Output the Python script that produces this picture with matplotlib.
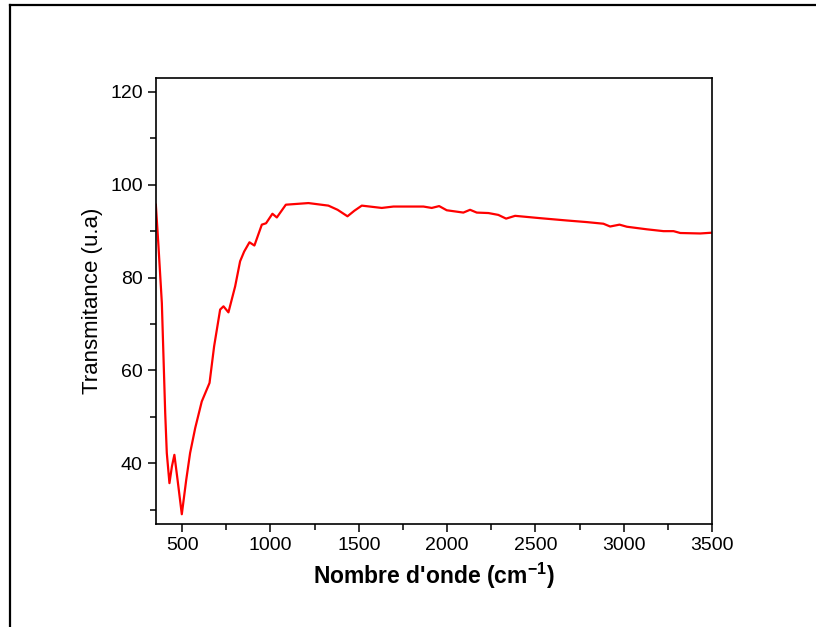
import matplotlib
matplotlib.use("Agg")
import matplotlib.pyplot as plt
from matplotlib.lines import Line2D
from matplotlib.ticker import MultipleLocator

plt.rcParams['font.family'] = ['Liberation Sans', 'DejaVu Sans']
plt.rcParams['mathtext.default'] = 'regular'

wavenumber = [351, 366, 385, 404, 413, 428, 442, 456, 474, 498, 523, 545, 574, 611, 655, 681,
              715, 734, 762, 800, 828, 851, 881, 909,
              951, 975, 1011, 1036, 1087, 1215, 1328, 1380, 1436, 1475, 1517, 1630, 1696, 1734,
              1866, 1913, 1955, 1998, 2092, 2130, 2168, 2234, 2290, 2334, 2385, 2526, 2677,
              2791, 2885, 2923, 2976, 3018, 3130, 3225, 3282, 3320, 3433, 3493]
transmittance = [95.7, 86.7, 74.5, 50.8, 42.2, 35.7, 39.3, 41.8, 36.4, 29.0, 36.4, 42.2, 47.6,
                 53.3, 57.3, 65.2, 73.1, 73.8, 72.5, 78.1, 83.5, 85.6, 87.6, 86.9,
                 91.4, 91.7, 93.75, 92.95, 95.7, 96.05, 95.5, 94.6, 93.2, 94.4, 95.5, 95.0,
                 95.3, 95.3, 95.3, 95.0, 95.4, 94.5, 94.0, 94.6, 94.0, 93.9, 93.5, 92.7, 93.3,
                 92.8, 92.3, 91.95, 91.6, 91.0, 91.4, 90.95, 90.4, 90.0, 90.0, 89.6, 89.5, 89.65]

xlabel = "Nombre d'onde (cm$^{-1}$)"
ylabel = "Transmitance (u.a)"

fig = plt.figure(figsize=(8.16, 6.27), dpi=100)
ax = fig.add_axes([0.1912, 0.1643, 0.6814, 0.7113])
ax.plot(wavenumber, transmittance, color='#ff0000', lw=1.6)
ax.set_xlim(352, 3500)
ax.set_ylim(26.9, 123)
ax.set_xticks([500, 1000, 1500, 2000, 2500, 3000, 3500])
ax.xaxis.set_minor_locator(MultipleLocator(250))
ax.set_yticks([40, 60, 80, 100, 120])
ax.yaxis.set_minor_locator(MultipleLocator(10))
ax.tick_params(which='major', direction='out', length=6, width=1.1, labelsize=14, colors='black')
ax.tick_params(which='minor', direction='out', length=4, width=1.1)
ax.tick_params(top=False, right=False)
for s in ax.spines.values():
    s.set_linewidth(1.2)
ax.set_xlabel(xlabel, fontsize=16.5, fontweight='bold', labelpad=5)
ax.set_ylabel(ylabel, fontsize=16, labelpad=5)

# figure frame (partially visible)
fig.add_artist(Line2D([9.5/816, 9.5/816], [0, 1 - 5/627], transform=fig.transFigure,
                      color='black', lw=1.6))
fig.add_artist(Line2D([9.5/816, 1], [1 - 5/627, 1 - 5/627], transform=fig.transFigure,
                      color='black', lw=1.6))

fig.savefig("out.png", dpi=100)
